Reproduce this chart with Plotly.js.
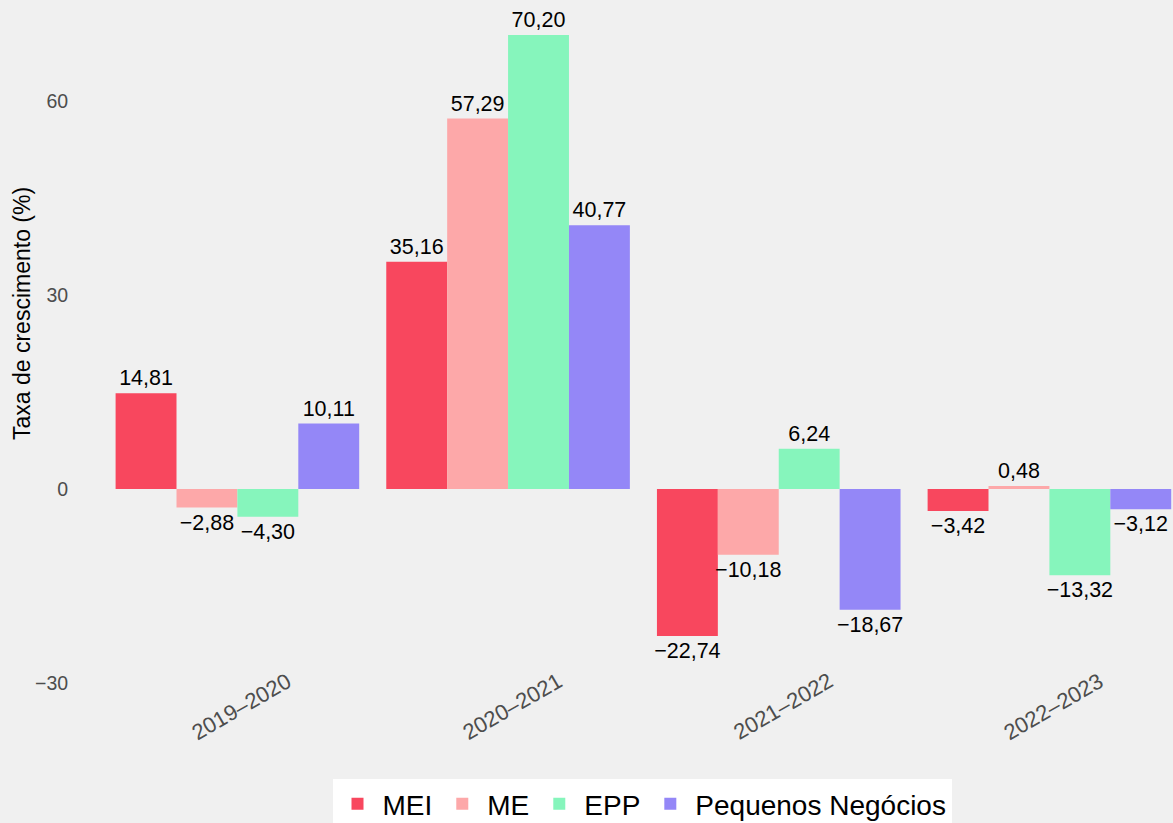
<!DOCTYPE html>
<html>
<head>
<meta charset="utf-8">
<script src="https://cdn.plot.ly/plotly-3.0.1.min.js"></script>
<style>html,body{margin:0;padding:0;background:#F0F0F0;}#chart{width:1173px;height:823px;}</style>
</head>
<body>
<div id="chart"></div>
<script>
const categories = ["2019–2020", "2020–2021", "2021–2022", "2022–2023"];
const seriesNames = ["MEI", "ME", "EPP", "Pequenos Negócios"];
const mei = [14.81, 35.16, -22.74, -3.42];
const me = [-2.88, 57.29, -10.18, 0.48];
const epp = [-4.30, 70.20, 6.24, -13.32];
const pequenos = [10.11, 40.77, -18.67, -3.12];
const yTicks = [-30, 0, 30, 60];
const colors = ["#F8475E", "#FDA8A9", "#86F5BC", "#9487F7"];

const fmt = v => v.toFixed(2).replace('.', ',').replace('-', '\u2212');
const idx = categories.map((c, i) => i);
const allSeries = [mei, me, epp, pequenos];
const FONT = 'Liberation Sans, Arial, sans-serif';

const traces = allSeries.map((vals, s) => ({
  type: 'bar',
  name: seriesNames[s],
  x: idx,
  y: vals,
  marker: {color: colors[s]},
  text: vals.map(fmt),
  textposition: 'outside',
  constraintext: 'none',
  cliponaxis: false,
  textfont: {family: FONT, size: 21.5, color: '#000'},
  hoverinfo: 'none'
}));

const annotations = categories.map((c, i) => ({
  text: c, x: i, y: (700 - 706) / 700, xref: 'x', yref: 'paper',
  xshift: 4, showarrow: false, textangle: -30,
  xanchor: 'center', yanchor: 'middle',
  font: {family: FONT, size: 22, color: '#4D4D4D'}
}));
annotations.push({
  text: 'Taxa de crescimento (%)', xref: 'paper', yref: 'paper',
  x: 0, xshift: -53, y: (700 - 314) / 700, showarrow: false, textangle: -90,
  xanchor: 'center', yanchor: 'middle',
  font: {family: FONT, size: 23, color: '#000'}
});

const layout = {
  width: 1173, height: 823,
  paper_bgcolor: '#F0F0F0', plot_bgcolor: '#F0F0F0',
  margin: {l: 75, r: 0, t: 0, b: 123},
  barmode: 'group', bargap: 0.1, bargroupgap: 0,
  font: {family: FONT},
  xaxis: {
    range: [-0.6, -0.6 + 1098 / 270.67],
    tickvals: idx, ticktext: categories.map(() => ''),
    showgrid: false, zeroline: false, showline: false, ticks: ''
  },
  yaxis: {
    range: [-(700 - 489) / 6.4667, 489 / 6.4667],
    tickvals: yTicks,
    showgrid: false, zeroline: false, showline: false,
    ticks: 'outside', ticklen: 2, tickcolor: 'rgba(0,0,0,0)',
    tickfont: {size: 19.5, color: '#4D4D4D'}
  },
  legend: {
    orientation: 'h', xref: 'container', yref: 'container',
    x: 642 / 1173, xanchor: 'center',
    y: (823 - 779) / 823, yanchor: 'top',
    bgcolor: '#FFFFFF', font: {size: 28, color: '#000'},
    itemwidth: 40,
    traceorder: 'normal'
  },
  showlegend: true,
  annotations: annotations
};

Plotly.newPlot('chart', traces, layout, {staticPlot: true});
</script>
</body>
</html>
